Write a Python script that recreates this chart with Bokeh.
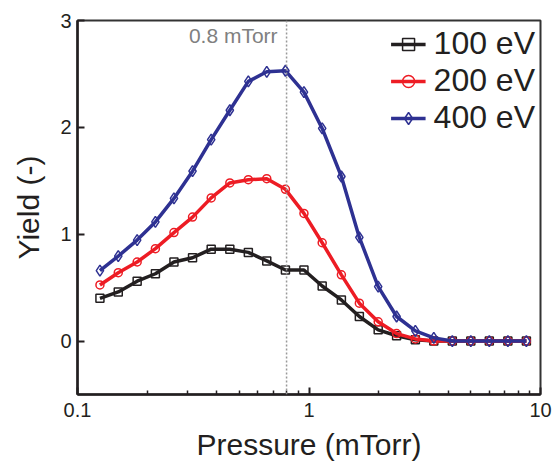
from bokeh.plotting import figure
from bokeh.models import FixedTicker, Span, Label, Range1d
from bokeh.embed import file_html
from bokeh.resources import INLINE

# Pressure sweep (mTorr), log-spaced measurement points
pressure = [0.125, 0.150, 0.181, 0.217, 0.261, 0.314, 0.378, 0.455, 0.547, 0.657,
            0.791, 0.951, 1.14, 1.38, 1.65, 1.99, 2.39, 2.88, 3.46, 4.16,
            5.00, 6.01, 7.23, 8.69]

# Yield at each pressure for three ion energies
yield_100 = [0.40, 0.46, 0.56, 0.63, 0.74, 0.78, 0.86, 0.86, 0.83, 0.75,
             0.665, 0.665, 0.515, 0.385, 0.23, 0.105, 0.05, 0.012, 0.0, 0.0,
             0.0, 0.0, 0.0, 0.0]
yield_200 = [0.525, 0.64, 0.74, 0.865, 1.015, 1.16, 1.34, 1.48, 1.51, 1.52,
             1.42, 1.195, 0.92, 0.62, 0.355, 0.18, 0.07, 0.02, 0.0, 0.0,
             0.0, 0.0, 0.0, 0.0]
yield_400 = [0.66, 0.795, 0.945, 1.115, 1.335, 1.59, 1.885, 2.16, 2.43, 2.52,
             2.53, 2.33, 1.99, 1.54, 0.97, 0.51, 0.23, 0.095, 0.03, 0.0,
             0.0, 0.0, 0.0, 0.0]

series = [
    ("100 eV", yield_100, "#231f20", "square", 8),
    ("200 eV", yield_200, "#ed1c24", "circle", 8),
    ("400 eV", yield_400, "#2e3192", "diamond", 11),
]

x_major = [0.1, 1, 10]
x_minor = [0.2, 0.3, 0.4, 0.5, 0.6, 0.7, 0.8, 0.9, 2, 3, 4, 5, 6, 7, 8, 9]
x_labels = {0.1: "0.1", 1: "1", 10: "10"}
y_major = [0, 1, 2, 3]

FONT = "Liberation Sans"
INK = "#231f20"

p = figure(width=553, height=465, x_axis_type="log",
           x_range=Range1d(0.1, 10), y_range=Range1d(-0.5, 3),
           output_backend="svg", toolbar_location=None,
           min_border_left=77, min_border_right=13,
           min_border_top=20, min_border_bottom=71)

p.grid.visible = False
p.background_fill_color = "white"
p.border_fill_color = "white"
p.outline_line_color = "#333333"
p.outline_line_width = 2

# reference pressure marker
p.add_layout(Span(location=0.8, dimension="height", line_color="#999999",
                  line_width=1.5, line_dash="2 2"))
p.add_layout(Label(x=0.8, y=3, x_offset=-9, y_offset=-15, text="0.8 mTorr",
                   text_align="right", text_baseline="middle",
                   text_font=FONT, text_font_size="21px", text_color="#808080"))

for name, ys, color, marker, size in series:
    p.line(pressure, ys, line_color=color, line_width=3.5, legend_label=name)
    p.scatter(pressure, ys, marker=marker, size=size, line_color=color,
              line_width=1.5, fill_color=None, legend_label=name)

p.xaxis.ticker = FixedTicker(ticks=x_major, minor_ticks=x_minor)
p.xaxis.major_label_overrides = x_labels
p.yaxis.ticker = FixedTicker(ticks=y_major)

for ax in (p.xaxis[0], p.yaxis[0]):
    ax.axis_line_color = INK
    ax.axis_line_width = 2.5
    ax.major_tick_line_color = INK
    ax.minor_tick_line_color = INK
    ax.major_tick_line_width = 2
    ax.minor_tick_line_width = 1.5
    ax.major_tick_in = 7
    ax.major_tick_out = 0
    ax.minor_tick_in = 4
    ax.minor_tick_out = 0
    ax.major_label_text_font = FONT
    ax.major_label_text_font_size = "20px"
    ax.major_label_text_color = INK
    ax.axis_label_text_font = FONT
    ax.axis_label_text_font_size = "30px"
    ax.axis_label_text_font_style = "normal"
    ax.axis_label_text_color = INK

p.xaxis.axis_label = "Pressure (mTorr)"
p.yaxis.axis_label = "Yield (-)"
p.xaxis.major_label_standoff = 8
p.xaxis.axis_label_standoff = 8
p.yaxis.major_label_standoff = 6
p.yaxis.axis_label_standoff = 12

lg = p.legend[0]
lg.location = "top_right"
lg.border_line_color = None
lg.background_fill_alpha = 0
lg.label_text_font = FONT
lg.label_text_font_size = "32px"
lg.label_text_color = INK
lg.glyph_width = 35
lg.glyph_height = 30
lg.label_height = 30
lg.label_standoff = 8
lg.spacing = 0
lg.padding = 4
lg.margin = 5

open("out.html", "w").write(file_html(p, INLINE))
